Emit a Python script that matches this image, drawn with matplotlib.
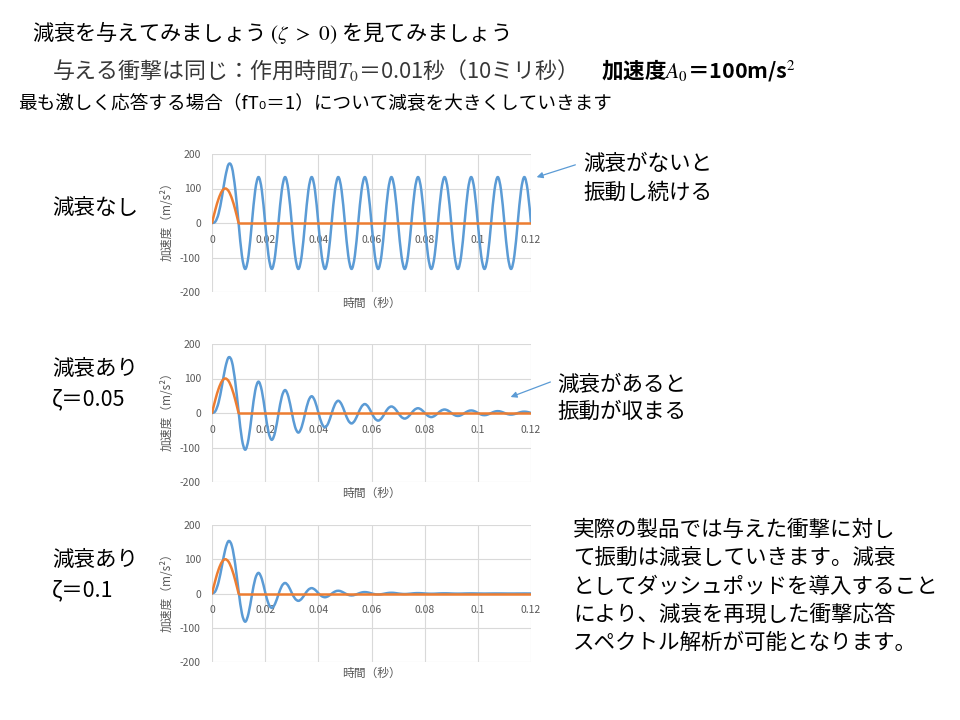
import numpy as np
import matplotlib
matplotlib.use("Agg")
import matplotlib.pyplot as plt
from matplotlib.path import Path
from matplotlib.patches import PathPatch, FancyArrowPatch

plt.rcParams['font.family'] = ['Noto Sans CJK JP', 'DejaVu Sans']
plt.rcParams['mathtext.fontset'] = 'stix'

# ---------------- data ----------------
# time axis of the response curves, in milliseconds
time_ms = [0, 1.25, 2.5, 3.75, 5, 6.25, 7.5, 8.75,
           10, 11.25, 12.5, 13.75, 15, 16.25, 17.5, 18.75,
           20, 21.25, 22.5, 23.75, 25, 26.25, 27.5, 28.75,
           30, 31.25, 32.5, 33.75, 35, 36.25, 37.5, 38.75,
           40, 41.25, 42.5, 43.75, 45, 46.25, 47.5, 48.75,
           50, 51.25, 52.5, 53.75, 55, 56.25, 57.5, 58.75,
           60, 61.25, 62.5, 63.75, 65, 66.25, 67.5, 68.75,
           70, 71.25, 72.5, 73.75, 75, 76.25, 77.5, 78.75,
           80, 81.25, 82.5, 83.75, 85, 86.25, 87.5, 88.75,
           90, 91.25, 92.5, 93.75, 95, 96.25, 97.5, 98.75,
           100, 101.25, 102.5, 103.75, 105, 106.25, 107.5, 108.75,
           110, 111.25, 112.5, 113.75, 115, 116.25, 117.5, 118.75,
           120]

# response acceleration (m/s^2), no damping
resp_none = [0, 3.9, 27.6, 76.0, 133.3, 170.3, 161.0, 98.2,
             0, -94.3, -133.3, -94.3, 0, 94.3, 133.3, 94.3,
             0, -94.3, -133.3, -94.3, 0, 94.3, 133.3, 94.3,
             0, -94.3, -133.3, -94.3, 0, 94.3, 133.3, 94.3,
             0, -94.3, -133.3, -94.3, 0, 94.3, 133.3, 94.3,
             0, -94.3, -133.3, -94.3, 0, 94.3, 133.3, 94.3,
             0, -94.3, -133.3, -94.3, 0, 94.3, 133.3, 94.3,
             0, -94.3, -133.3, -94.3, 0, 94.3, 133.3, 94.3,
             0, -94.3, -133.3, -94.3, 0, 94.3, 133.3, 94.3,
             0, -94.3, -133.3, -94.3, 0, 94.3, 133.3, 94.3,
             0, -94.3, -133.3, -94.3, 0, 94.3, 133.3, 94.3,
             0, -94.3, -133.3, -94.3, 0, 94.3, 133.3, 94.3,
             0]

# response acceleration, zeta = 0.05
resp_z005 = [0, 5.2, 31.1, 79.0, 131.3, 161.3, 148.3, 90.0,
             4.2, -75.5, -106.5, -75.1, -3.6, 64.5, 91.0, 64.2,
             3.1, -55.1, -77.8, -54.8, -2.6, 47.1, 66.5, 46.9,
             2.3, -40.3, -56.8, -40.0, -1.9, 34.4, 48.6, 34.2,
             1.7, -29.4, -41.5, -29.3, -1.4, 25.1, 35.5, 25.0,
             1.2, -21.5, -30.3, -21.4, -1.0, 18.4, 25.9, 18.3,
             0.9, -15.7, -22.1, -15.6, -0.8, 13.4, 18.9, 13.3,
             0.6, -11.5, -16.2, -11.4, -0.6, 9.8, 13.8, 9.7,
             0.5, -8.4, -11.8, -8.3, -0.4, 7.2, 10.1, 7.1,
             0.3, -6.1, -8.6, -6.1, -0.3, 5.2, 7.4, 5.2,
             0.3, -4.5, -6.3, -4.4, -0.2, 3.8, 5.4, 3.8,
             0.2, -3.3, -4.6, -3.2, -0.2, 2.8, 3.9, 2.8,
             0.1]

# response acceleration, zeta = 0.1
resp_z01 = [0, 6.5, 34.2, 81.1, 128.8, 153.2, 138.3, 84.4,
            7.4, -58.2, -82.4, -58.0, -5.4, 42.5, 60.2, 42.4,
            3.8, -29.7, -42.0, -29.6, -2.8, 21.7, 30.7, 21.6,
            1.9, -15.1, -21.4, -15.1, -1.4, 11.1, 15.7, 11.0,
            1.0, -7.7, -10.9, -7.7, -0.7, 5.6, 8.0, 5.6,
            0.5, -3.9, -5.6, -3.9, -0.4, 2.9, 4.1, 2.9,
            0.3, -2.0, -2.8, -2.0, -0.2, 1.5, 2.1, 1.5,
            0.1, -1.0, -1.5, -1.0, -0.1, 0.8, 1.1, 0.8,
            0.1, -0.5, -0.7, -0.5, 0, 0.4, 0.5, 0.4,
            0, -0.3, -0.4, -0.3, 0, 0.2, 0.3, 0.2,
            0, -0.1, -0.2, -0.1, 0, 0.1, 0.1, 0.1,
            0, -0.1, -0.1, -0.1, 0, 0, 0.1, 0,
            0]

# input shock: half-sine pulse, 0.01 s, 100 m/s^2
pulse_ms = [0, 1.25, 2.5, 3.75, 5, 6.25, 7.5, 8.75, 10, 120]
pulse_val = [0, 38.3, 70.7, 92.4, 100, 92.4, 70.7, 38.3, 0, 0]

x_ticks = [0, 0.02, 0.04, 0.06, 0.08, 0.1, 0.12]
x_tick_labels = ['0', '0.02', '0.04', '0.06', '0.08', '0.1', '0.12']
y_ticks = [-200, -100, 0, 100, 200]
y_tick_labels = ['-200', '-100', '0', '100', '200']

x_label = '時間（秒）'
y_label = '加速度（m/s²）'

# ---------------- drawing ----------------
W, H = 960, 720
fig = plt.figure(figsize=(9.6, 7.2), dpi=100)
fig.patch.set_facecolor('white')


def fx(x):
    return x / W


def fy(y):
    return 1 - y / H


def smooth_path(x, y):
    """Excel-like smoothed line (Catmull-Rom segments as cubic Beziers)."""
    x = np.asarray(x, float)
    y = np.asarray(y, float)
    n = len(x)
    verts = [(x[0], y[0])]
    codes = [Path.MOVETO]
    for i in range(n - 1):
        i0 = max(i - 1, 0)
        i3 = min(i + 2, n - 1)
        c1 = (x[i] + (x[i + 1] - x[i0]) / 6, y[i] + (y[i + 1] - y[i0]) / 6)
        c2 = (x[i + 1] - (x[i3] - x[i]) / 6, y[i + 1] - (y[i3] - y[i]) / 6)
        verts += [c1, c2, (x[i + 1], y[i + 1])]
        codes += [Path.CURVE4] * 3
    return Path(verts, codes)


BLUE = '#5B9BD5'
ORANGE = '#ED7D31'
GRID = '#D9D9D9'
TXT = '#595959'

t_s = np.asarray(time_ms) / 1000.0
p_s = np.asarray(pulse_ms) / 1000.0

panels = [(resp_none, 154, 292), (resp_z005, 344, 482), (resp_z01, 525, 662)]
left_px, right_px = 212, 531

for resp, top, bottom in panels:
    ax = fig.add_axes([fx(left_px), fy(bottom), (right_px - left_px) / W,
                       (bottom - top) / H])
    ax.set_facecolor('none')
    ax.set_xlim(0, 0.12)
    ax.set_ylim(-200, 200)
    ax.set_xticks(x_ticks)
    ax.set_xticklabels(x_tick_labels)
    ax.set_yticks(y_ticks)
    ax.set_yticklabels(y_tick_labels)
    ax.grid(True, color=GRID, lw=0.8)
    ax.set_axisbelow(True)
    for s in ax.spines.values():
        s.set_visible(False)
    ax.spines['bottom'].set_position(('data', 0))
    ax.tick_params(length=0, labelsize=7.5, labelcolor=TXT)
    ax.tick_params(axis='x', pad=8.5)
    ax.tick_params(axis='y', pad=8)

    # response (blue)
    ax.add_patch(PathPatch(smooth_path(t_s, resp), fill=False, edgecolor=BLUE,
                           lw=1.8, capstyle='round', joinstyle='round', zorder=3))
    # input pulse (orange)
    ax.add_patch(PathPatch(smooth_path(p_s[:-1], pulse_val[:-1]), fill=False,
                           edgecolor=ORANGE, lw=1.8, capstyle='round',
                           joinstyle='round', zorder=4))
    ax.plot(p_s[-2:], pulse_val[-2:], color=ORANGE, lw=1.8,
            solid_capstyle='round', zorder=4)

    ax.text(-0.141, 0.53, y_label, rotation=90, transform=ax.transAxes,
            ha='center', va='center', fontsize=8.5, color=TXT)
    ax.text(0.5, -11.0 / (bottom - top), x_label, transform=ax.transAxes,
            ha='center', va='center', fontsize=8.5, color=TXT)

# ---------------- texts ----------------
fig.text(fx(32), fy(32), r'減衰を与えてみましょう$\ (\zeta\ >\ 0)\ $を見てみましょう',
         fontsize=15.3, va='center', ha='left', color='black')
fig.text(fx(52), fy(70), r'与える衝撃は同じ：作用時間$T_0$＝0.01秒（10ミリ秒）',
         fontsize=15.8, va='center', ha='left', color='#383838')
fig.text(fx(601), fy(70), r'加速度$A_0$＝100m/s$^2$',
         fontsize=15.5, va='center', ha='left', color='black', fontweight='bold')
fig.text(fx(18), fy(104), '最も激しく応答する場合（fT₀＝1）について減衰を大きくしていきます',
         fontsize=13.4, va='center', ha='left', color='black')

side_fs = 15.5
fig.text(fx(52), fy(208), '減衰なし', fontsize=side_fs, va='center')
fig.text(fx(52), fy(369), '減衰あり', fontsize=side_fs, va='center')
fig.text(fx(52), fy(399), 'ζ＝0.05', fontsize=side_fs, va='center')
fig.text(fx(52), fy(560), '減衰あり', fontsize=side_fs, va='center')
fig.text(fx(52), fy(590), 'ζ＝0.1', fontsize=side_fs, va='center')

fig.text(fx(583), fy(164), '減衰がないと', fontsize=side_fs, va='center')
fig.text(fx(583), fy(193), '振動し続ける', fontsize=side_fs, va='center')
fig.text(fx(557), fy(385), '減衰があると', fontsize=side_fs, va='center')
fig.text(fx(557), fy(412), '振動が収まる', fontsize=side_fs, va='center')

para = ['実際の製品では与えた衝撃に対し',
        'て振動は減衰していきます。減衰',
        'としてダッシュポッドを導入すること',
        'により、減衰を再現した衝撃応答',
        'スペクトル解析が可能となります。']
for i, line in enumerate(para):
    fig.text(fx(573), fy(530 + 28.3 * i), line, fontsize=side_fs, va='center')

for (x0, y0), (x1, y1) in [((578, 164), (534, 178)), ((553, 381), (508, 398))]:
    fig.add_artist(FancyArrowPatch((fx(x0), fy(y0)), (fx(x1), fy(y1)),
                                   transform=fig.transFigure,
                                   arrowstyle='-|>', mutation_scale=9,
                                   color=BLUE, lw=0.9))

fig.savefig('out.png', dpi=100, facecolor='white')
